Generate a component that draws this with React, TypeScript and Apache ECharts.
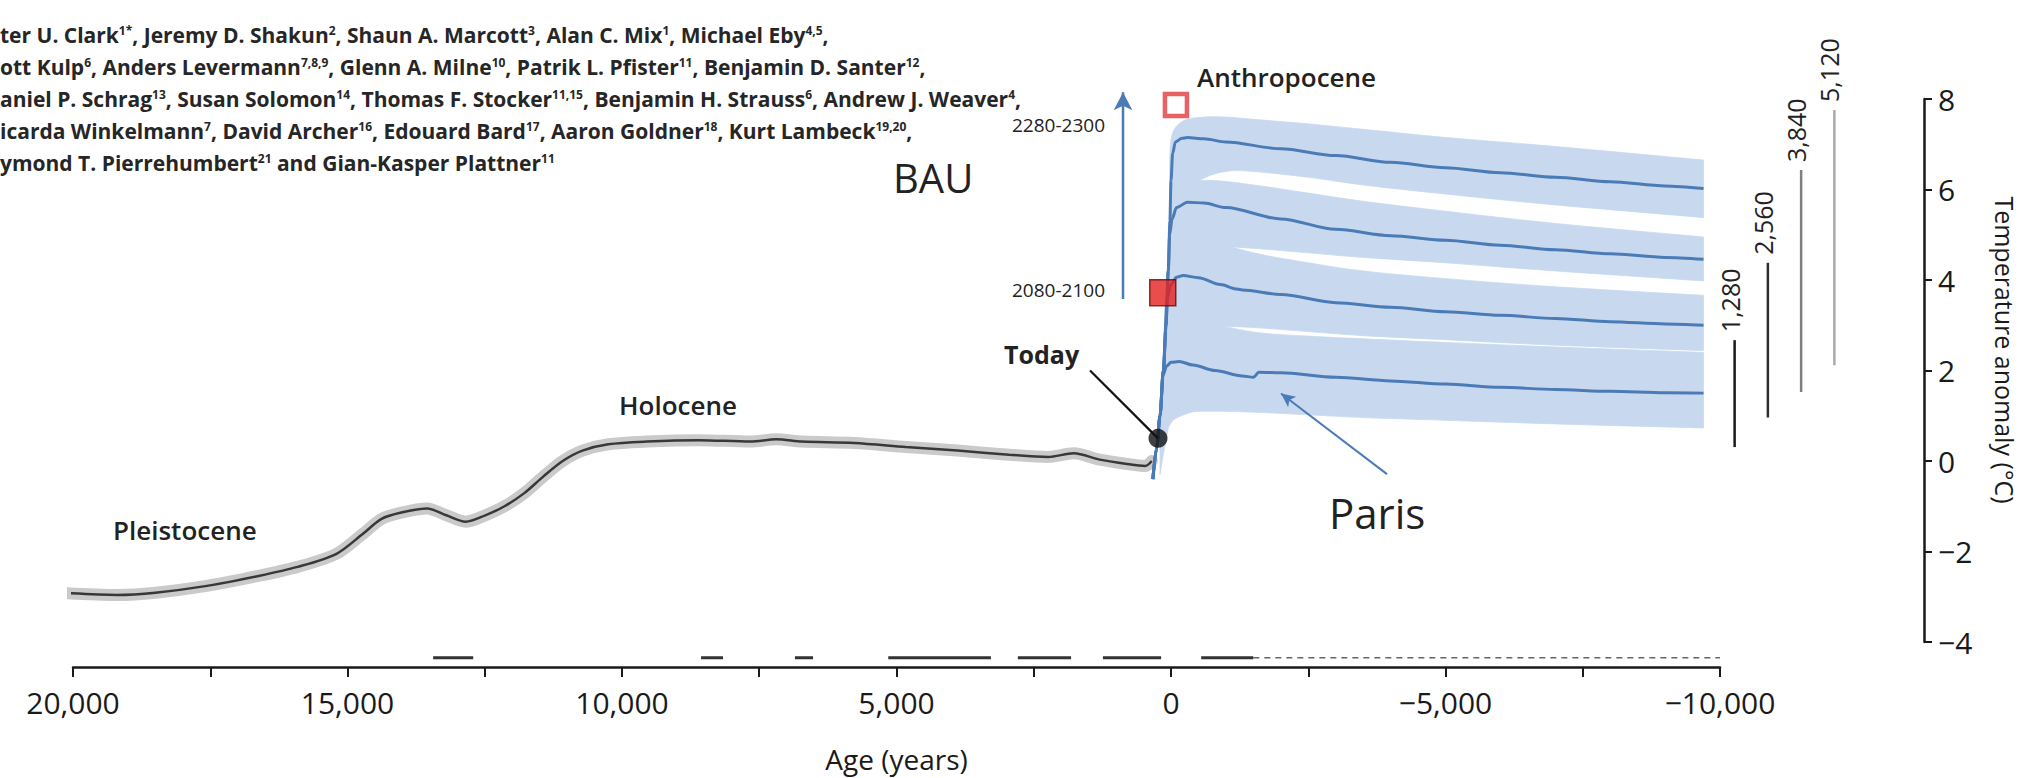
import React, { useEffect, useRef } from 'react';
import * as echarts from 'echarts';

const FONT = "'Open Sans', 'Noto Sans', 'DejaVu Sans', sans-serif";
const CAL = "'Open Sans', 'Lato', 'Noto Sans', sans-serif";

// ---- Holocene / Pleistocene reconstruction (age in years BP, temperature anomaly in °C)
const holoAge = [20270, 19200, 18500, 17560, 16620, 15910, 15200, 14730, 14380, 14020, 13550, 13200, 12850, 12490, 12140, 11780, 11430, 11080, 10720, 10250, 9550, 8600, 7660, 7190, 6720, 5770, 4830, 3890, 2950, 2240, 1770, 1300, 830, 470, 350];
const holoTemp = [-2.91, -2.96, -2.91, -2.76, -2.54, -2.34, -2.05, -1.62, -1.28, -1.14, -1.05, -1.2, -1.34, -1.2, -1.0, -0.71, -0.34, 0.0, 0.23, 0.37, 0.43, 0.46, 0.43, 0.48, 0.43, 0.4, 0.31, 0.23, 0.14, 0.09, 0.17, 0.03, -0.06, -0.11, 0.0];

// ---- Future projections (cumulative emissions 5,120 / 3,840 / 2,560 / 1,280 PgC)
const line5120Age = [330, 260, 200, 140, 90, 50, 20, 0, -30, -80, -200, -300, -600, -1000, -2000, -3000, -4000, -5000, -6000, -7000, -8000, -9000, -9700];
const line5120T = [-0.4, 0.3, 1.0, 2.0, 3.0, 4.2, 5.3, 6.2, 6.8, 7.05, 7.13, 7.15, 7.12, 7.05, 6.9, 6.75, 6.6, 6.48, 6.37, 6.27, 6.17, 6.08, 6.02];
const line3840Age = [330, 260, 200, 140, 90, 50, 25, -20, -100, -300, -600, -1000, -2000, -3000, -4000, -5000, -6000, -7000, -8000, -9000, -9700];
const line3840T = [-0.4, 0.3, 1.0, 2.0, 3.0, 4.2, 5.0, 5.35, 5.6, 5.72, 5.7, 5.6, 5.35, 5.12, 4.98, 4.88, 4.77, 4.67, 4.58, 4.5, 4.46];
const line2560Age = [330, 260, 200, 140, 70, 0, -100, -220, -500, -900, -1200, -1300, -2000, -3000, -4000, -5000, -6000, -7000, -8000, -9000, -9700];
const line2560T = [-0.4, 0.3, 1.0, 2.0, 3.6, 3.9, 4.06, 4.1, 4.05, 3.9, 3.8, 3.78, 3.68, 3.5, 3.4, 3.3, 3.22, 3.15, 3.08, 3.03, 3.0];
const line1280Age = [330, 260, 200, 145, 80, 0, -150, -400, -800, -1300, -1500, -1600, -2000, -3000, -4000, -5000, -6000, -7000, -8000, -9000, -9700];
const line1280T = [-0.4, 0.3, 1.0, 1.9, 2.1, 2.18, 2.2, 2.12, 2.0, 1.88, 1.85, 1.96, 1.95, 1.85, 1.77, 1.7, 1.63, 1.58, 1.54, 1.51, 1.5];

// ---- Uncertainty bands
const band5120Age = [20, 0, -200, -600, -1000, -1500, -2500, -3500, -5000, -7000, -9700];
const band5120Hi = [6.0, 7.1, 7.5, 7.6, 7.6, 7.55, 7.45, 7.33, 7.15, 6.95, 6.65];
const band5120Lo = [5.4, 5.7, 5.9, 6.25, 6.4, 6.4, 6.27, 6.1, 5.9, 5.66, 5.38];
const band3840Age = [20, -150, -600, -1500, -2500, -3500, -5000, -7000, -9700];
const band3840Hi = [5.6, 6.0, 6.2, 6.1, 5.92, 5.74, 5.52, 5.25, 4.95];
const band3840Lo = [3.9, 4.6, 4.75, 4.7, 4.6, 4.5, 4.38, 4.2, 3.98];
const band2560Age = [40, -300, -650, -1500, -2500, -3500, -5000, -7000, -9700];
const band2560Hi = [4.3, 5.0, 4.9, 4.6, 4.38, 4.2, 4.03, 3.85, 3.66];
const band2560Lo = [2.6, 2.9, 2.98, 2.95, 2.86, 2.77, 2.68, 2.56, 2.44];
const band1280Age = [200, 100, 0, -300, -600, -1500, -2500, -3500, -5000, -7000, -9700];
const band1280Hi = [0.5, 2.8, 3.2, 3.3, 3.1, 2.85, 2.76, 2.7, 2.62, 2.52, 2.4];
const band1280Lo = [-0.3, 0.4, 0.85, 1.05, 1.1, 1.08, 1.02, 0.96, 0.9, 0.82, 0.73];

// ---- Range bars for each emission scenario
const barLabels = ['1,280', '2,560', '3,840', '5,120'];
const barLo = [0.35, 1.0, 1.56, 2.15];
const barHi = [2.7, 4.4, 6.44, 7.76];
const barColors = ['#1a1a1a', '#2e2e2e', '#808080', '#aaaaaa'];

// ---- Points and annotation anchors
const todayPoint = [237, 0.5];
const point2090 = [150, 3.72];
const point2290 = [-90, 7.87];
const bauArrow = [[874, 3.58], [874, 8.15]];
const todayPointer = [[1475, 2.0], todayPoint];
const parisArrow = [[-3934, -0.29], [-2004, 1.49]];

// ---- Data coverage marks along the axis
const coverBlack = [[13440, 12710], [8560, 8160], [6850, 6520], [5150, 3280], [2790, 1820], [1240, 180], [-550, -1500]];
const coverDashed = [-1500, -10000];
const coverLevel = -4.35;

// ---- Axis ticks
const xMin = -10000;
const xMax = 20000;
const xStep = 5000;
const yMin = -4;
const yMax = 8;
const yStep = 2;

const authorLines = [
  'ter U. Clark{s|1*}, Jeremy D. Shakun{s|2}, Shaun A. Marcott{s|3}, Alan C. Mix{s|1}, Michael Eby{s|4,5},',
  'ott Kulp{s|6}, Anders Levermann{s|7,8,9}, Glenn A. Milne{s|10}, Patrik L. Pfister{s|11}, Benjamin D. Santer{s|12},',
  'aniel P. Schrag{s|13}, Susan Solomon{s|14}, Thomas F. Stocker{s|11,15}, Benjamin H. Strauss{s|6}, Andrew J. Weaver{s|4},',
  'icarda Winkelmann{s|7}, David Archer{s|16}, Edouard Bard{s|17}, Aaron Goldner{s|18}, Kurt Lambeck{s|19,20},',
  'ymond T. Pierrehumbert{s|21} and Gian-Kasper Plattner{s|11}',
];

const BLUE = '#4a7bb7';
const BAND = '#c8d9ef';

const pairs = (a: number[], b: number[]) => a.map((v, i) => [v, b[i]]);

const fmtAge = (v: number) => {
  if (v === 0) return '0';
  const s = Math.abs(v).toLocaleString('en-US');
  return v < 0 ? '\u2212' + s : s;
};
const fmtTemp = (v: number) => (v < 0 ? '\u2212' + Math.abs(v) : String(v));

// smooth (Catmull-Rom) path segment through pixel points
const smoothSeg = (pts: number[][]) => {
  let d = '';
  for (let i = 0; i < pts.length - 1; i++) {
    const p0 = pts[i - 1] || pts[i];
    const p1 = pts[i];
    const p2 = pts[i + 1];
    const p3 = pts[i + 2] || p2;
    const c1x = p1[0] + (p2[0] - p0[0]) / 6;
    const c1y = p1[1] + (p2[1] - p0[1]) / 6;
    const c2x = p2[0] - (p3[0] - p1[0]) / 6;
    const c2y = p2[1] - (p3[1] - p1[1]) / 6;
    d += ` C${c1x.toFixed(2)},${c1y.toFixed(2)} ${c2x.toFixed(2)},${c2y.toFixed(2)} ${p2[0].toFixed(2)},${p2[1].toFixed(2)}`;
  }
  return d;
};

const bandSeries = (name: string, ages: number[], lo: number[], hi: number[]) => ({
  type: 'custom',
  name,
  xAxisIndex: 0,
  yAxisIndex: 0,
  z: 1,
  silent: true,
  data: ages.map((a, i) => [a, lo[i], hi[i]]),
  encode: { x: 0, y: [1, 2] },
  renderItem: (params: any, api: any) => {
    if (params.dataIndex !== 0) return null;
    const top = ages.map((a, i) => api.coord([a, hi[i]]));
    const bot = ages.map((a, i) => api.coord([a, lo[i]])).reverse();
    const d =
      `M${top[0][0].toFixed(2)},${top[0][1].toFixed(2)}` +
      smoothSeg(top) +
      ` L${bot[0][0].toFixed(2)},${bot[0][1].toFixed(2)}` +
      smoothSeg(bot) +
      ' Z';
    return {
      type: 'path',
      shape: { pathData: d },
      style: { fill: BAND, stroke: BAND, lineWidth: 0.8 },
    };
  },
});

const blueLine = (name: string, ages: number[], temps: number[]) => ({
  type: 'line',
  name,
  z: 4,
  data: pairs(ages, temps),
  showSymbol: false,
  symbol: 'none',
  smooth: 0.3,
  smoothMonotone: 'x',
  lineStyle: { color: BLUE, width: 3 },
  silent: true,
});

const textEl = (text: string, x: number, y: number, size: number, opts: any = {}) => ({
  type: 'text',
  x,
  y,
  z: 100,
  rotation: opts.rotation || 0,
  silent: true,
  style: {
    text,
    fontSize: size,
    fontFamily: opts.family || FONT,
    fontWeight: opts.weight || 'normal',
    fill: opts.fill || '#222',
    textAlign: opts.align || 'left',
    textVerticalAlign: 'middle',
    ...(opts.rich ? { rich: opts.rich } : {}),
  },
});

export default function App() {
  const ref = useRef<HTMLDivElement>(null);

  useEffect(() => {
    if (!ref.current) return;
    const chart = echarts.init(ref.current, undefined, { renderer: 'svg' });

    const coverData: any[] = [];
    coverBlack.forEach(([a, b]) => {
      coverData.push([a, coverLevel], [b, coverLevel], [b - 1, null]);
    });

    const authorEls = authorLines.map((t, i) =>
      textEl(t, 0, 35 + i * 32, 21, {
        weight: 'bold',
        fill: '#262626',
        rich: {
          s: { fontSize: 12, fontWeight: 'bold', fontFamily: FONT, fill: '#262626', verticalAlign: 'top', lineHeight: 14 },
        },
      })
    );

    const option: any = {
      animation: false,
      backgroundColor: '#ffffff',
      textStyle: { fontFamily: FONT },
      grid: [
        { left: 73, right: 309, top: 99, bottom: 133, containLabel: false },
        { left: 1718, width: 133, top: 99, bottom: 133, containLabel: false },
      ],
      xAxis: [
        {
          type: 'value',
          gridIndex: 0,
          min: xMin,
          max: xMax,
          interval: xStep,
          inverse: true,
          offset: 25,
          axisLine: { show: true, onZero: false, lineStyle: { color: '#1a1a1a', width: 2.5 } },
          axisTick: { show: true, length: 10, lineStyle: { color: '#1a1a1a', width: 2 } },
          minorTick: { show: true, splitNumber: 2, length: 10, lineStyle: { color: '#1a1a1a', width: 2 } },
          splitLine: { show: false },
          axisLabel: { formatter: fmtAge, fontSize: 30, fontWeight: 500, color: '#1a1a1a', margin: 20, fontFamily: FONT, showMinLabel: true, showMaxLabel: true },
          name: 'Age (years)',
          nameLocation: 'middle',
          nameGap: 78,
          nameTextStyle: { fontSize: 28, color: '#1a1a1a', fontFamily: FONT },
        },
        {
          type: 'category',
          gridIndex: 1,
          data: barLabels,
          show: false,
          boundaryGap: true,
        },
      ],
      yAxis: [
        {
          type: 'value',
          gridIndex: 0,
          position: 'right',
          offset: 204,
          min: yMin,
          max: yMax,
          interval: yStep,
          axisLine: { show: true, onZero: false, lineStyle: { color: '#1a1a1a', width: 2.5 } },
          axisTick: { show: true, length: 8, lineStyle: { color: '#1a1a1a', width: 2 } },
          splitLine: { show: false },
          axisLabel: { formatter: fmtTemp, fontSize: 30, fontWeight: 500, color: '#1a1a1a', margin: 14, fontFamily: FONT },
        },
        {
          type: 'value',
          gridIndex: 1,
          min: yMin,
          max: yMax,
          show: false,
        },
      ],
      graphic: [
        ...authorEls,
        textEl('BAU', 893, 177, 40, { family: CAL }),
        textEl('2280-2300', 1012, 125, 19, { family: CAL }),
        textEl('2080-2100', 1012, 290, 19, { family: CAL }),
        textEl('Anthropocene', 1197, 77, 26, { weight: 600 }),
        textEl('Today', 1004, 354, 25, { family: CAL, weight: 700 }),
        textEl('Holocene', 619, 405, 26, { weight: 600 }),
        textEl('Pleistocene', 113, 530, 26, { weight: 600 }),
        textEl('Paris', 1329, 512, 42, { family: CAL }),
        textEl('Temperature anomaly (°C)', 2005, 350, 25, { align: 'center', rotation: -Math.PI / 2, fill: '#1a1a1a' }),
      ],
      series: [
        bandSeries('band5120', band5120Age, band5120Lo, band5120Hi),
        bandSeries('band3840', band3840Age, band3840Lo, band3840Hi),
        bandSeries('band2560', band2560Age, band2560Lo, band2560Hi),
        bandSeries('band1280', band1280Age, band1280Lo, band1280Hi),
        {
          type: 'line',
          name: 'holoceneBand',
          z: 2,
          data: pairs(holoAge, holoTemp),
          showSymbol: false,
          symbol: 'none',
          smooth: 0.3,
          lineStyle: { color: '#cacaca', width: 12, cap: 'round', join: 'round' },
          silent: true,
        },
        {
          type: 'line',
          name: 'holocene',
          z: 3,
          clip: false,
          data: pairs(holoAge, holoTemp),
          showSymbol: false,
          symbol: 'none',
          smooth: 0.3,
          lineStyle: { color: '#383838', width: 2.5 },
          silent: true,
          markLine: {
            silent: true,
            animation: false,
            label: { show: false },
            symbol: ['none', 'none'],
            data: [
              [
                { coord: todayPointer[0], symbol: 'none', lineStyle: { color: '#111', width: 2.2, type: 'solid' } },
                { coord: todayPointer[1], symbol: 'none', lineStyle: { color: '#111', width: 2.2, type: 'solid' } },
              ],
              [
                { coord: parisArrow[0], symbol: 'none', lineStyle: { color: BLUE, width: 2, type: 'solid' } },
                { coord: parisArrow[1], symbol: 'arrow', symbolSize: [10, 14], lineStyle: { color: BLUE, width: 2, type: 'solid' } },
              ],
            ],
          },
        },
        {
          type: 'line',
          name: 'bauArrow',
          z: 4,
          clip: false,
          data: [
            { value: bauArrow[0], symbol: 'none' },
            { value: bauArrow[1], symbol: 'arrow', symbolSize: [14, 18] },
          ],
          showSymbol: true,
          showAllSymbol: true,
          itemStyle: { color: BLUE },
          lineStyle: { color: BLUE, width: 2.5 },
          silent: true,
        },
        blueLine('1280', line1280Age, line1280T),
        blueLine('2560', line2560Age, line2560T),
        blueLine('3840', line3840Age, line3840T),
        blueLine('5120', line5120Age, line5120T),
        {
          type: 'line',
          name: 'coverage',
          z: 3,
          clip: false,
          connectNulls: false,
          data: coverData,
          showSymbol: false,
          symbol: 'none',
          lineStyle: { color: '#333', width: 3 },
          silent: true,
        },
        {
          type: 'line',
          name: 'coverageDashed',
          z: 3,
          clip: false,
          data: coverDashed.map((a) => [a, coverLevel]),
          showSymbol: false,
          symbol: 'none',
          lineStyle: { color: '#666', width: 1.5, type: [6, 5] },
          silent: true,
        },
        {
          type: 'scatter',
          name: 'today',
          z: 6,
          clip: false,
          data: [todayPoint],
          symbol: 'circle',
          symbolSize: 19,
          itemStyle: { color: '#111' },
          silent: true,
        },
        {
          type: 'scatter',
          name: '2080-2100',
          z: 6,
          clip: false,
          data: [point2090],
          symbol: 'rect',
          symbolSize: 26,
          itemStyle: { color: '#e3201f', borderColor: '#5e0c0c', borderWidth: 1.5 },
          silent: true,
        },
        {
          type: 'scatter',
          name: '2280-2300',
          z: 6,
          clip: false,
          data: [point2290],
          symbol: 'rect',
          symbolSize: 22,
          itemStyle: { color: '#ffffff', borderColor: '#e23a3e', borderWidth: 4.5 },
          silent: true,
        },
        {
          type: 'custom',
          name: 'ranges',
          xAxisIndex: 1,
          yAxisIndex: 1,
          z: 3,
          silent: true,
          clip: false,
          data: barLabels.map((c, i) => [i, barLo[i], barHi[i]]),
          encode: { x: 0, y: [1, 2] },
          renderItem: (params: any, api: any) => {
            const i = params.dataIndex;
            const p1 = api.coord([api.value(0), api.value(1)]);
            const p2 = api.coord([api.value(0), api.value(2)]);
            return {
              type: 'group',
              children: [
                {
                  type: 'line',
                  shape: { x1: p1[0], y1: p1[1], x2: p2[0], y2: p2[1] },
                  style: { stroke: barColors[i], lineWidth: 2.5 },
                },
                {
                  type: 'text',
                  x: p2[0] - 5,
                  y: p2[1] - 8,
                  rotation: Math.PI / 2,
                  style: {
                    text: barLabels[i],
                    fontSize: 25,
                    fontFamily: FONT,
                    fill: '#222',
                    textAlign: 'left',
                    textVerticalAlign: 'middle',
                  },
                },
              ],
            };
          },
        },
      ],
    };

    chart.setOption(option);
    return () => chart.dispose();
  }, []);

  return <div ref={ref} style={{ position: 'fixed', left: 0, top: 0, width: 2029, height: 778 }} />;
}
